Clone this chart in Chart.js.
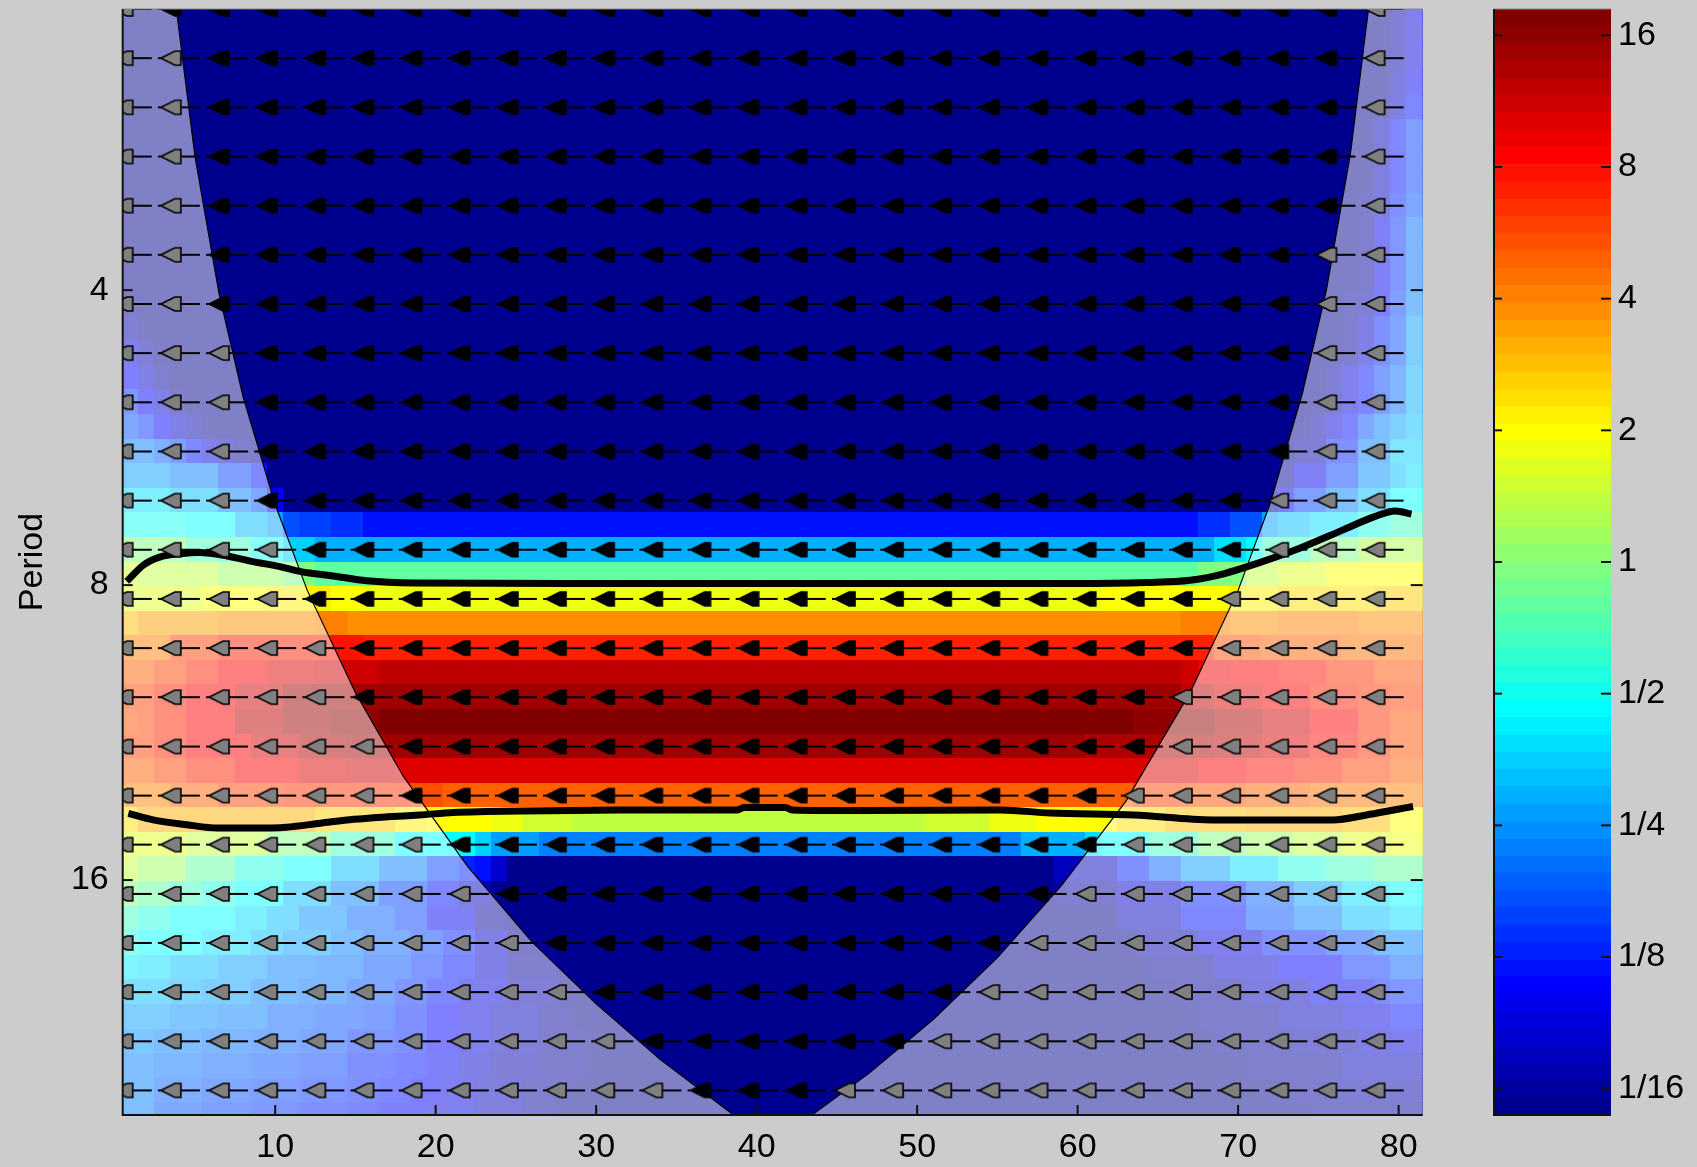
<!DOCTYPE html>
<html>
<head>
<meta charset="utf-8">
<script src="https://cdn.jsdelivr.net/npm/chart.js@4.4.1/dist/chart.umd.min.js"></script>
<style>
  html, body { margin: 0; padding: 0; background: #cccccc; }
  body { width: 1697px; height: 1167px; position: relative; overflow: hidden; }
  #main { position: absolute; left: 0; top: 0; }
  #bar { position: absolute; left: 1400px; top: 0; }
</style>
</head>
<body>
<canvas id="main" width="1697" height="1167"></canvas>
<canvas id="bar" width="297" height="1167"></canvas>
<script>
// Scales (periods) of the wavelet, top to bottom
const periods = [2.066, 2.189, 2.319, 2.457, 2.603, 2.758, 2.922, 3.096, 3.280, 3.475,
  3.681, 3.900, 4.132, 4.378, 4.638, 4.914, 5.206, 5.516, 5.844, 6.191,
  6.559, 6.949, 7.362, 7.800, 8.264, 8.755, 9.276, 9.827, 10.41, 11.03,
  11.69, 12.38, 13.12, 13.90, 14.72, 15.60, 16.53, 17.51, 18.55, 19.65,
  20.82, 22.06, 23.37, 24.76, 26.23, 27.79];
const firstT = 1;
const lastT = 81;

// Power per row, as colour-bar level (0..63) : [first time step, level] change points
const powerLevels = [
  [[1,0],[80,2],[81,5]],
  [[1,0],[80,2],[81,5]],
  [[1,0],[80,2],[81,5]],
  [[1,0],[80,3],[81,6]],
  [[1,0],[79,1],[80,4],[81,8]],
  [[1,0],[79,3],[80,8],[81,11]],
  [[1,0],[79,3],[80,8],[81,11]],
  [[1,0],[79,3],[80,8],[81,11]],
  [[1,0],[78,1],[79,4],[80,9],[81,12]],
  [[1,0],[78,1],[79,6],[80,10],[81,14]],
  [[1,0],[78,1],[79,6],[80,10],[81,14]],
  [[1,0],[78,1],[79,6],[80,10],[81,14]],
  [[1,0],[77,1],[78,2],[79,7],[80,11],[81,15]],
  [[1,2],[2,0],[77,1],[78,4],[79,9],[80,12],[81,17]],
  [[1,5],[2,2],[3,0],[77,1],[78,4],[79,9],[80,12],[81,17]],
  [[1,7],[2,4],[3,1],[4,0],[76,2],[77,5],[78,8],[79,11],[80,14],[81,18]],
  [[1,10],[2,7],[3,4],[4,1],[5,0],[76,2],[77,5],[78,8],[79,11],[80,14],[81,18]],
  [[1,12],[2,10],[3,7],[4,4],[5,2],[6,0],[75,2],[76,5],[77,8],[78,12],[79,15],[80,17],[81,19]],
  [[1,15],[3,13],[4,11],[5,8],[6,5],[7,3],[8,1],[9,0],[74,2],[76,9],[78,15],[80,20]],
  [[1,17],[4,15],[7,11],[9,8],[10,0],[73,1],[74,6],[76,11],[78,16],[80,19],[81,21]],
  [[1,21],[4,19],[7,15],[9,12],[10,6],[11,0],[73,7],[74,11],[76,15],[78,19],[80,23]],
  [[1,24],[5,23],[8,19],[10,17],[11,12],[12,11],[14,10],[16,8],[68,10],[70,12],[72,17],[73,19],[75,21],[78,25],[80,27]],
  [[1,31],[5,27],[9,24],[11,20],[13,18],[69,21],[71,23],[72,27],[75,31],[78,34]],
  [[1,36],[2,35],[7,33],[11,31],[13,29],[68,31],[71,35],[73,37],[76,39]],
  [[1,37],[6,39],[10,40],[14,39],[16,38],[62,39],[70,40],[73,41],[79,42]],
  [[1,43],[2,45],[7,46],[13,47],[15,46],[67,47],[70,46],[73,47],[78,46]],
  [[1,47],[4,51],[7,53],[14,54],[16,53],[69,50],[72,49],[77,48]],
  [[1,49],[3,51],[5,53],[7,55],[10,57],[13,58],[17,59],[67,58],[68,56],[70,55],[73,54],[76,52],[79,50]],
  [[1,51],[3,53],[5,55],[8,58],[11,61],[67,59],[69,57],[72,55],[75,53],[78,52],[80,51]],
  [[1,50],[2,51],[3,53],[5,55],[8,59],[11,61],[14,62],[17,63],[64,62],[69,60],[72,58],[75,55],[78,52],[80,50]],
  [[1,51],[3,53],[5,55],[9,58],[12,60],[15,61],[61,60],[69,59],[72,57],[75,54],[78,52],[80,50]],
  [[1,49],[3,51],[5,53],[8,55],[12,57],[15,58],[18,57],[68,55],[71,54],[74,53],[77,51],[80,49]],
  [[1,47],[4,49],[7,51],[11,52],[19,50],[21,49],[64,51],[67,50],[71,49],[75,48],[79,47]],
  [[1,41],[2,44],[13,42],[18,40],[20,39],[24,38],[26,36],[29,35],[51,36],[55,38],[58,39],[63,41],[66,43],[71,44],[77,43],[80,39]],
  [[1,37],[5,35],[10,31],[14,27],[18,23],[23,20],[24,17],[27,15],[57,18],[61,21],[62,23],[65,27],[68,31],[71,33],[74,35],[77,37],[80,38]],
  [[1,35],[2,33],[5,29],[8,25],[11,23],[14,19],[17,15],[20,11],[22,9],[23,8],[24,4],[25,0],[59,3],[63,9],[65,13],[67,17],[70,21],[73,25],[76,27],[79,29]],
  [[1,31],[2,29],[4,27],[6,25],[8,23],[11,19],[14,15],[17,11],[20,8],[22,3],[24,0],[59,1],[63,4],[67,9],[71,13],[74,17],[77,21],[80,23]],
  [[1,27],[2,25],[4,23],[8,21],[10,19],[12,16],[15,13],[18,11],[20,6],[23,1],[25,0],[63,3],[67,8],[71,12],[74,15],[77,19],[80,21]],
  [[1,25],[2,23],[6,21],[9,19],[11,17],[14,15],[16,13],[19,11],[21,9],[23,4],[25,0],[64,2],[68,5],[72,9],[76,12],[79,15]],
  [[1,22],[2,21],[4,19],[7,17],[10,15],[13,14],[16,12],[19,10],[21,8],[23,4],[25,1],[28,0],[65,1],[69,4],[73,7],[77,10],[80,13]],
  [[1,19],[4,18],[6,17],[9,15],[12,14],[15,12],[18,10],[20,8],[22,5],[25,2],[28,0],[67,1],[71,3],[75,6],[79,9],[80,10]],
  [[1,17],[4,16],[7,15],[10,13],[13,12],[16,11],[18,9],[20,7],[22,5],[24,3],[27,1],[29,0],[68,1],[73,3],[77,5],[80,8]],
  [[1,16],[3,15],[6,14],[9,13],[12,12],[15,10],[18,9],[20,7],[22,5],[24,3],[27,1],[30,0],[69,1],[74,2],[78,4],[80,5]],
  [[1,15],[3,14],[6,13],[9,12],[12,11],[15,9],[18,8],[20,6],[22,4],[24,2],[27,1],[30,0],[71,1],[77,3]],
  [[1,15],[3,13],[6,12],[9,11],[12,10],[15,9],[17,8],[19,7],[21,5],[23,3],[26,1],[29,0],[73,1],[76,2]],
  [[1,15],[3,12],[6,11],[9,10],[12,9],[15,8],[17,7],[20,5],[23,3],[26,1],[28,0],[75,1]]
];

// 5% significance contours
const sigUpperT = [0.75, 1.8, 2.8, 4.1, 5.3, 7.0, 8.6, 10.3, 11.6, 13.6, 15.7, 18.6, 30, 45, 60, 64.3, 67.0, 69.1, 71.1, 73.8, 76.5, 78.5, 79.8, 80.8];
const sigUpperP = [7.93, 7.63, 7.49, 7.43, 7.41, 7.47, 7.57, 7.66, 7.75, 7.83, 7.92, 7.96, 7.97, 7.97, 7.97, 7.95, 7.91, 7.79, 7.61, 7.34, 7.03, 6.81, 6.72, 6.77];
const sigLowerT = [0.85, 2.4, 4.5, 6.4, 8.6, 10.7, 12.8, 14.9, 17.0, 19.0, 21.1, 23.2, 25.3, 31.5, 38.8, 39.2, 41.8, 42.2, 46.8, 55.2, 58.3, 63.5, 68.4, 75.9, 78.0, 79.7, 80.9];
const sigLowerP = [13.68, 13.89, 14.05, 14.16, 14.16, 14.13, 14.0, 13.87, 13.79, 13.73, 13.65, 13.62, 13.6, 13.57, 13.57, 13.49, 13.49, 13.57, 13.59, 13.57, 13.67, 13.73, 13.89, 13.89, 13.73, 13.57, 13.46];

// cone of influence
const coiT = [0.5, 1.06, 1.5, 2, 3, 3.85, 5, 6.5, 8, 10, 12, 15, 18, 22, 26, 30, 34, 38.7, 41, 43.3,
  47, 51, 55, 59, 63, 67, 70, 72, 74, 75.5, 77, 78.1, 79, 80, 80.5, 80.9, 81.5];
const coiP = [0.05, 0.05, 0.33, 0.70, 1.44, 2.07, 2.92, 4.03, 5.14, 6.62, 8.1, 10.3, 12.55, 15.5, 18.5, 21.4, 24.4, 27.9, 29.6, 27.9,
  25.2, 22.2, 19.2, 16.2, 13.3, 10.3, 8.1, 6.6, 5.1, 4.0, 2.9, 2.08, 1.41, 0.67, 0.30, 0.05, 0.05];

// phase arrows (all anti-phase, pointing left)
const arrowT = [1, 4, 7, 10, 13, 16, 19, 22, 25, 28, 31, 34, 37, 40, 43, 46, 49, 52, 55, 58, 61, 64, 67, 70, 73, 76, 79];
const arrowPeriods = periods.filter((p, j) => j % 2 === 0);

const xTicks = [10, 20, 30, 40, 50, 60, 70, 80];
const yTicks = [4, 8, 16];
const colorLimits = [-4.2, 4.2];  // log2 power
const colorTicks = [-4, -3, -2, -1, 0, 1, 2, 3, 4];
const colorTickLabels = ['1/16', '1/8', '1/4', '1/2', '1', '2', '4', '8', '16'];

const font = { family: "'Liberation Sans', Arial, sans-serif", size: 34 };

function jet(k) {
  const b = k <= 6 ? (k + 9) / 16 : k <= 23 ? 1 : k <= 38 ? (39 - k) / 16 : 0;
  const g = k <= 7 ? 0 : k <= 23 ? (k - 7) / 16 : k <= 39 ? 1 : k <= 54 ? (55 - k) / 16 : 0;
  const r = k <= 23 ? 0 : k <= 39 ? (k - 23) / 16 : k <= 55 ? 1 : (71 - k) / 16;
  return `rgb(${Math.round(r * 255)},${Math.round(g * 255)},${Math.round(b * 255)})`;
}

function coiAt(t) {
  for (let i = 1; i < coiT.length; i++) {
    if (t <= coiT[i]) {
      const f = (t - coiT[i - 1]) / (coiT[i] - coiT[i - 1]);
      return coiP[i - 1] + f * (coiP[i] - coiP[i - 1]);
    }
  }
  return coiP[coiP.length - 1];
}

function makeArrow(fill) {
  const c = document.createElement('canvas');
  c.width = 46; c.height = 18;
  const g = c.getContext('2d');
  const cx = 23, cy = 9;
  g.fillStyle = '#000';
  g.fillRect(cx - 21, cy - 1, 42, 2);
  g.beginPath();
  g.moveTo(cx - 18, cy);
  g.lineTo(cx - 4, cy - 7);
  g.lineTo(cx + 2, cy - 7);
  g.lineTo(cx + 2, cy + 7);
  g.lineTo(cx - 4, cy + 7);
  g.closePath();
  g.fillStyle = fill;
  g.fill();
  g.lineWidth = 1.6;
  g.strokeStyle = '#000';
  g.stroke();
  return c;
}

const arrowsIn = [], arrowsOut = [];
arrowPeriods.forEach(p => {
  arrowT.forEach(t => {
    const pt = { x: t, y: Math.log2(p) };
    (p < coiAt(t) ? arrowsIn : arrowsOut).push(pt);
  });
});

// heat map cells, drawn through the chart scales
const heatmap = {
  id: 'heatmap',
  beforeDatasetsDraw(chart) {
    const { ctx, chartArea: a, scales: { x, y } } = chart;
    const L = periods.map(Math.log2);
    ctx.save();
    ctx.beginPath();
    ctx.rect(a.left, a.top, a.width, a.height);
    ctx.clip();
    powerLevels.forEach((runs, j) => {
      const lo = j === 0 ? L[0] - (L[1] - L[0]) / 2 : (L[j - 1] + L[j]) / 2;
      const hi = j === L.length - 1 ? L[j] + (L[j] - L[j - 1]) / 2 : (L[j] + L[j + 1]) / 2;
      const y0 = Math.floor(y.getPixelForValue(lo));
      const y1 = Math.ceil(y.getPixelForValue(hi));
      runs.forEach(([t, k], r) => {
        const tEnd = r + 1 < runs.length ? runs[r + 1][0] - 1 : lastT;
        const x0 = Math.floor(x.getPixelForValue(t - 0.5));
        const x1 = Math.ceil(x.getPixelForValue(tEnd + 0.5));
        ctx.fillStyle = jet(k);
        ctx.fillRect(x0, y0, x1 - x0, y1 - y0);
      });
    });
    ctx.restore();
  }
};

// axes box and inward ticks
const frame = {
  id: 'frame',
  afterDraw(chart) {
    const { ctx, chartArea: a, scales: { x, y } } = chart;
    const line = (x0, y0, x1, y1) => { ctx.beginPath(); ctx.moveTo(x0, y0); ctx.lineTo(x1, y1); ctx.stroke(); };
    ctx.save();
    ctx.strokeStyle = '#888';
    ctx.lineWidth = 1;
    line(a.left, a.top, a.right, a.top);
    ctx.strokeStyle = '#111';
    ctx.lineWidth = 2;
    ctx.beginPath();
    ctx.moveTo(a.left, a.top);
    ctx.lineTo(a.left, a.bottom);
    ctx.lineTo(a.right, a.bottom);
    ctx.stroke();
    x.ticks.forEach(t => {
      const px = x.getPixelForValue(t.value);
      line(px, a.bottom, px, a.bottom - 10);
    });
    y.ticks.forEach(t => {
      const py = y.getPixelForValue(t.value);
      line(a.left, py, a.left + 10, py);
      line(a.right, py, a.right - 12, py);
    });
    ctx.restore();
  }
};

function noEdgePadding(s) {
  s.paddingTop = 0; s.paddingBottom = 0; s.paddingLeft = 0; s.paddingRight = 0;
}

new Chart(document.getElementById('main'), {
  type: 'scatter',
  data: {
    datasets: [
      { data: arrowsIn, pointStyle: makeArrow('#000'), pointRadius: 3, order: 0 },
      { data: arrowsOut, pointStyle: makeArrow('#808080'), pointRadius: 3, order: 0 },
      { data: sigUpperT.map((t, i) => ({ x: t, y: Math.log2(sigUpperP[i]) })), showLine: true,
        borderColor: '#000', borderWidth: 7, pointRadius: 0, cubicInterpolationMode: 'monotone', order: 1 },
      { data: sigLowerT.map((t, i) => ({ x: t, y: Math.log2(sigLowerP[i]) })), showLine: true,
        borderColor: '#000', borderWidth: 7, pointRadius: 0, cubicInterpolationMode: 'monotone', order: 1 },
      { data: coiT.map((t, i) => ({ x: t, y: Math.log2(coiP[i]) })), showLine: true,
        borderColor: '#000', borderWidth: 1.2, pointRadius: 0, tension: 0,
        fill: 'start', backgroundColor: 'rgba(255,255,255,0.5)', order: 2 }
    ]
  },
  options: {
    responsive: false,
    animation: false,
    events: [],
    layout: { padding: { left: 0, top: 9, right: 1697 - 1422.7, bottom: 0 } },
    plugins: { legend: { display: false }, tooltip: { enabled: false } },
    scales: {
      x: {
        type: 'linear', min: firstT - 0.5, max: lastT + 0.5,
        grid: { display: false, drawTicks: false }, border: { display: false },
        afterBuildTicks: s => { s.ticks = xTicks.map(v => ({ value: v })); },
        afterFit: s => { s.height = 52; noEdgePadding(s); },
        ticks: { font, color: '#000', padding: 12, maxRotation: 0, autoSkip: false }
      },
      y: {
        type: 'linear', reverse: true,
        min: Math.log2(periods[0]), max: Math.log2(periods[periods.length - 1]),
        grid: { display: false, drawTicks: false }, border: { display: false },
        afterBuildTicks: s => { s.ticks = yTicks.map(v => ({ value: Math.log2(v) })); },
        afterFit: s => { s.width = 122.7; noEdgePadding(s); },
        ticks: { font, color: '#000', padding: 14, callback: v => String(Math.round(Math.pow(2, v))) },
        title: { display: true, text: 'Period', font, color: '#000', padding: { top: 12, bottom: 0 } }
      }
    }
  },
  plugins: [heatmap, frame]
});

// colour bar
const barFrame = {
  id: 'barFrame',
  afterDraw(chart) {
    const { ctx, chartArea: a, scales: { y } } = chart;
    const line = (x0, y0, x1, y1) => { ctx.beginPath(); ctx.moveTo(x0, y0); ctx.lineTo(x1, y1); ctx.stroke(); };
    ctx.save();
    ctx.strokeStyle = '#888';
    ctx.lineWidth = 1;
    line(a.left, a.top, a.right, a.top);
    ctx.strokeStyle = '#111';
    ctx.lineWidth = 2;
    ctx.beginPath();
    ctx.moveTo(a.left, a.top);
    ctx.lineTo(a.left, a.bottom);
    ctx.lineTo(a.right, a.bottom);
    ctx.stroke();
    y.ticks.forEach(t => {
      const py = y.getPixelForValue(t.value);
      line(a.left, py, a.left + 8, py);
      line(a.right, py, a.right - 10, py);
    });
    ctx.restore();
  }
};

const levelSize = (colorLimits[1] - colorLimits[0]) / 64;
const levelDatasets = [];
for (let k = 0; k < 64; k++) {
  levelDatasets.push({
    data: [[colorLimits[0] + k * levelSize, colorLimits[0] + (k + 1) * levelSize]],
    backgroundColor: jet(k), borderWidth: 0, grouped: false,
    barPercentage: 1, categoryPercentage: 1
  });
}

new Chart(document.getElementById('bar'), {
  type: 'bar',
  data: { labels: [''], datasets: levelDatasets },
  options: {
    responsive: false,
    animation: false,
    events: [],
    layout: { padding: { left: 94, top: 9, right: 0, bottom: 52 } },
    plugins: { legend: { display: false }, tooltip: { enabled: false } },
    scales: {
      x: { display: false },
      y: {
        position: 'right', min: colorLimits[0], max: colorLimits[1],
        grid: { display: false, drawTicks: false }, border: { display: false },
        afterBuildTicks: s => { s.ticks = colorTicks.map(v => ({ value: v })); },
        afterFit: s => { s.width = 86; noEdgePadding(s); },
        ticks: { font, color: '#000', padding: 7, callback: v => colorTickLabels[colorTicks.indexOf(v)] }
      }
    }
  },
  plugins: [barFrame]
});
</script>
</body>
</html>
